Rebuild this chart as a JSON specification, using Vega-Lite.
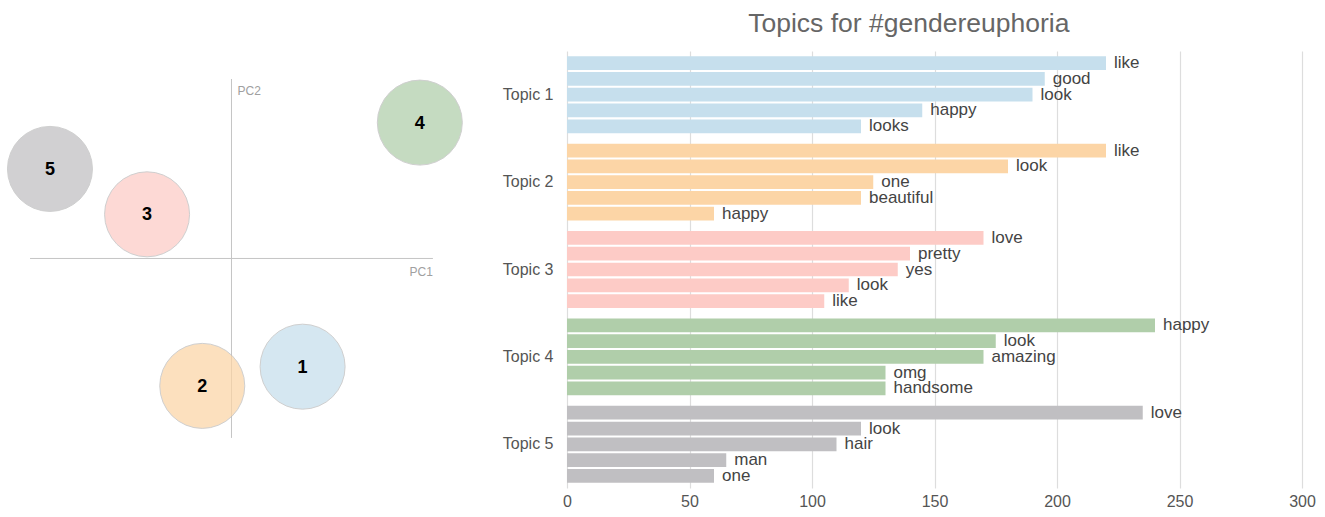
{
  "$schema": "https://vega.github.io/schema/vega-lite/v6.json",
  "padding": {"top": 10, "left": 0, "right": 0, "bottom": 0},
  "background": "white",
  "spacing": 32,
  "config": {"view": {"stroke": null}, "font": "Liberation Sans"},
  "datasets": {
    "pca": [
      {"topic": "1", "pc1": 0.353, "pc2": -0.603},
      {"topic": "2", "pc1": -0.145, "pc2": -0.71},
      {"topic": "3", "pc1": -0.419, "pc2": 0.246},
      {"topic": "4", "pc1": 0.935, "pc2": 0.757},
      {"topic": "5", "pc1": -0.901, "pc2": 0.499}
    ],
    "words": [
      {"topic": "Topic 1", "rank": 1, "word": "like", "count": 220},
      {"topic": "Topic 1", "rank": 2, "word": "good", "count": 195},
      {"topic": "Topic 1", "rank": 3, "word": "look", "count": 190},
      {"topic": "Topic 1", "rank": 4, "word": "happy", "count": 145},
      {"topic": "Topic 1", "rank": 5, "word": "looks", "count": 120},
      {"topic": "Topic 2", "rank": 1, "word": "like", "count": 220},
      {"topic": "Topic 2", "rank": 2, "word": "look", "count": 180},
      {"topic": "Topic 2", "rank": 3, "word": "one", "count": 125},
      {"topic": "Topic 2", "rank": 4, "word": "beautiful", "count": 120},
      {"topic": "Topic 2", "rank": 5, "word": "happy", "count": 60},
      {"topic": "Topic 3", "rank": 1, "word": "love", "count": 170},
      {"topic": "Topic 3", "rank": 2, "word": "pretty", "count": 140},
      {"topic": "Topic 3", "rank": 3, "word": "yes", "count": 135},
      {"topic": "Topic 3", "rank": 4, "word": "look", "count": 115},
      {"topic": "Topic 3", "rank": 5, "word": "like", "count": 105},
      {"topic": "Topic 4", "rank": 1, "word": "happy", "count": 240},
      {"topic": "Topic 4", "rank": 2, "word": "look", "count": 175},
      {"topic": "Topic 4", "rank": 3, "word": "amazing", "count": 170},
      {"topic": "Topic 4", "rank": 4, "word": "omg", "count": 130},
      {"topic": "Topic 4", "rank": 5, "word": "handsome", "count": 130},
      {"topic": "Topic 5", "rank": 1, "word": "love", "count": 235},
      {"topic": "Topic 5", "rank": 2, "word": "look", "count": 120},
      {"topic": "Topic 5", "rank": 3, "word": "hair", "count": 110},
      {"topic": "Topic 5", "rank": 4, "word": "man", "count": 65},
      {"topic": "Topic 5", "rank": 5, "word": "one", "count": 60}
    ]
  },
  "hconcat": [
    {
      "width": 470,
      "height": 437,
      "layer": [
        {
          "data": {"values": [{}]},
          "mark": {"type": "rule", "color": "#c4c4c4", "strokeWidth": 1},
          "encoding": {
            "y": {"datum": 0, "type": "quantitative", "scale": {"domain": [-1.279, 1.156], "nice": false, "zero": false}, "axis": null},
            "x": {"datum": -1, "type": "quantitative", "scale": {"domain": [-1.149, 1.184], "nice": false, "zero": false}, "axis": null},
            "x2": {"datum": 1}
          }
        },
        {
          "data": {"values": [{}]},
          "mark": {"type": "rule", "color": "#c4c4c4", "strokeWidth": 1},
          "encoding": {
            "x": {"datum": 0, "type": "quantitative"},
            "y": {"datum": -1, "type": "quantitative"},
            "y2": {"datum": 1}
          }
        },
        {
          "data": {"values": [{}]},
          "mark": {"type": "text", "text": "PC1", "align": "right", "baseline": "middle", "dy": 14, "fontSize": 12, "color": "#a0a0a0", "font": "Liberation Sans"},
          "encoding": {"x": {"datum": 1, "type": "quantitative"}, "y": {"datum": 0, "type": "quantitative"}}
        },
        {
          "data": {"values": [{}]},
          "mark": {"type": "text", "text": "PC2", "align": "left", "baseline": "middle", "dx": 6, "dy": 12, "fontSize": 12, "color": "#a0a0a0", "font": "Liberation Sans"},
          "encoding": {"x": {"datum": 0, "type": "quantitative"}, "y": {"datum": 1, "type": "quantitative"}}
        },
        {
          "data": {"name": "pca"},
          "mark": {"type": "circle", "size": 7225, "opacity": 0.72, "stroke": "#bdbdbd", "strokeWidth": 1, "strokeOpacity": 1},
          "encoding": {
            "x": {"field": "pc1", "type": "quantitative"},
            "y": {"field": "pc2", "type": "quantitative"},
            "color": {"field": "topic", "type": "nominal", "legend": null,
              "scale": {"domain": ["1", "2", "3", "4", "5"], "range": ["#c6dfed", "#fcd5a6", "#fdcbc6", "#b0ceaa", "#c0bfc2"]}}
          }
        },
        {
          "data": {"name": "pca"},
          "mark": {"type": "text", "fontSize": 18, "fontWeight": "bold", "color": "#000000", "font": "Liberation Sans", "baseline": "middle", "dy": 1},
          "encoding": {
            "x": {"field": "pc1", "type": "quantitative"},
            "y": {"field": "pc2", "type": "quantitative"},
            "text": {"field": "topic"}
          }
        }
      ]
    },
    {
      "width": 735,
      "height": 437,
      "title": {"text": "Topics for #gendereuphoria", "fontSize": 26.5, "fontWeight": "normal", "color": "#666666", "font": "Liberation Sans", "anchor": "middle", "frame": "bounds", "offset": 14},
      "data": {"name": "words"},
      "encoding": {
        "y": {"field": "topic", "type": "nominal", "title": null,
          "scale": {"paddingInner": 0.12, "paddingOuter": 0.06},
          "axis": {"domain": false, "ticks": false, "tickSize": 0, "labelPadding": 14, "labelFontSize": 16, "labelColor": "#555555", "labelFont": "Liberation Sans"}},
        "yOffset": {"field": "rank", "type": "ordinal", "scale": {"paddingInner": 0.13, "paddingOuter": 0}},
        "x": {"field": "count", "type": "quantitative", "title": null,
          "scale": {"domain": [0, 300], "nice": false},
          "axis": {"values": [0, 50, 100, 150, 200, 250, 300], "labelFlush": false, "domain": false, "ticks": false, "tickSize": 0, "labelPadding": 5, "labelFontSize": 16, "labelColor": "#555555", "labelFont": "Liberation Sans", "gridColor": "#dddddd", "gridWidth": 1.2}}
      },
      "layer": [
        {
          "mark": {"type": "bar"},
          "encoding": {
            "color": {"field": "topic", "type": "nominal", "legend": null,
              "scale": {"domain": ["Topic 1", "Topic 2", "Topic 3", "Topic 4", "Topic 5"], "range": ["#cde4f0", "#fdd7aa", "#fdcbc6", "#b2cfa9", "#c0bbc1"]}}
          }
        },
        {
          "mark": {"type": "text", "align": "left", "baseline": "middle", "dx": 8, "fontSize": 17, "color": "#444444", "font": "Liberation Sans"},
          "encoding": {"text": {"field": "word"}}
        }
      ]
    }
  ]
}
